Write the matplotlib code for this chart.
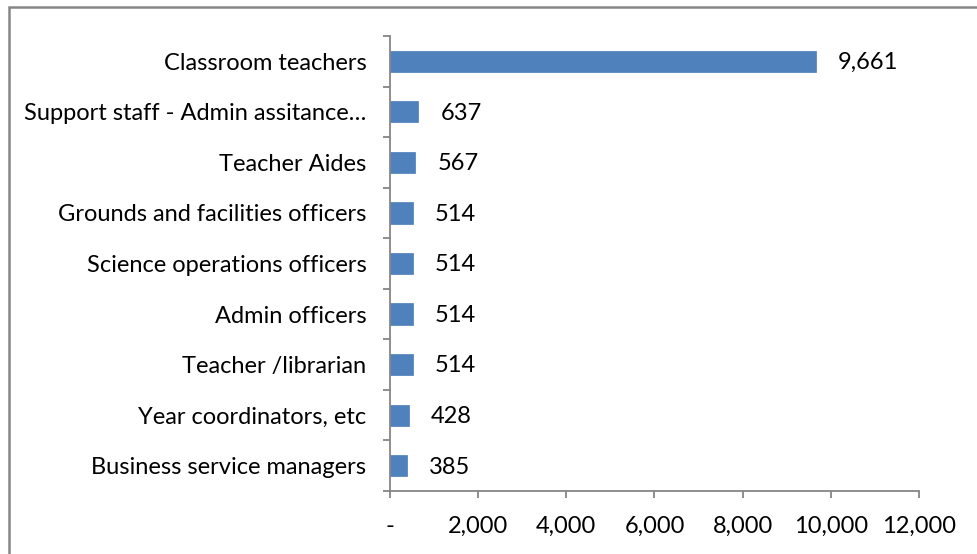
import matplotlib
matplotlib.use("Agg")
import matplotlib.pyplot as plt
from matplotlib.patches import Rectangle
import numpy as np

categories = ["Classroom teachers", "Support staff - Admin assitance…", "Teacher Aides",
              "Grounds and facilities officers", "Science operations officers",
              "Admin officers", "Teacher /librarian", "Year coordinators, etc",
              "Business service managers"]
values = [9661, 637, 567, 514, 514, 514, 514, 428, 385]
xticks = [0, 2000, 4000, 6000, 8000, 10000, 12000]
xticklabels = ["-", "2,000", "4,000", "6,000", "8,000", "10,000", "12,000"]

W, H = 978, 554
fig = plt.figure(figsize=(W/100, H/100), dpi=100)
plt.rcParams['font.family'] = ['Lato', 'DejaVu Sans']
fs = 17

ax = fig.add_axes([390/W, (H-491)/H, (919-390)/W, (491-36)/H])
n = len(categories)
y = np.arange(n)[::-1]
ax.barh(y, values, height=0.42, color="#4F81BD", edgecolor="#4A7EBB", linewidth=0.5)
ax.set_xlim(0, 12000)
ax.set_ylim(-0.5, n-0.5)

axcol = "#868686"
for s in ["top", "right"]:
    ax.spines[s].set_visible(False)
for s in ["left", "bottom"]:
    ax.spines[s].set_color(axcol)
    ax.spines[s].set_linewidth(1.3)

ax.set_xticks(xticks)
ax.set_xticklabels(xticklabels, fontsize=fs)
ax.tick_params(axis="x", length=5, width=1.3, color=axcol, pad=13)

ax.set_yticks(np.arange(n+1)-0.5)
ax.set_yticklabels([])
ax.tick_params(axis="y", which="major", length=5, width=1.3, color=axcol)
ax.set_yticks(y, minor=True)
ax.set_yticklabels(categories, minor=True, fontsize=fs)
ax.tick_params(axis="y", which="minor", length=0, pad=17)

for yi, v in zip(y, values):
    ax.annotate(f"{v:,}", (v, yi), xytext=(16, -1), textcoords="offset points",
                va="center", ha="left", fontsize=fs)

fig.patches.append(Rectangle((9/W, -0.1), 1.2, (H-7)/H + 0.1, transform=fig.transFigure,
                             fill=False, edgecolor=axcol, linewidth=1.8))

fig.savefig("out.png", dpi=100)
